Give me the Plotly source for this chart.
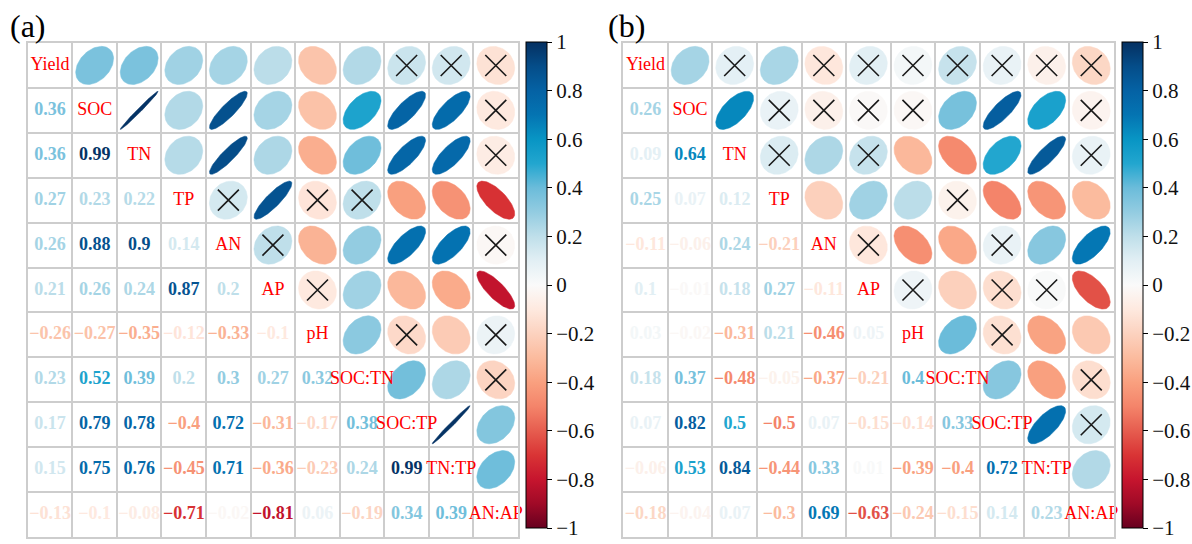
import numpy as np
import plotly.graph_objects as go

# ---------------------------------------------------------------- data
variables = ["Yield", "SOC", "TN", "TP", "AN", "AP", "pH",
             "SOC:TN", "SOC:TP", "TN:TP", "AN:AP"]

# Lower triangle of each correlation matrix, row by row
# (row i lists the coefficients with variables 0 .. i-1)
corr_a_rows = [
    [],
    [0.36],
    [0.36, 0.99],
    [0.27, 0.23, 0.22],
    [0.26, 0.88, 0.9, 0.14],
    [0.21, 0.26, 0.24, 0.87, 0.2],
    [-0.26, -0.27, -0.35, -0.12, -0.33, -0.1],
    [0.23, 0.52, 0.39, 0.2, 0.3, 0.27, 0.32],
    [0.17, 0.79, 0.78, -0.4, 0.72, -0.31, -0.17, 0.38],
    [0.15, 0.75, 0.76, -0.45, 0.71, -0.36, -0.23, 0.24, 0.99],
    [-0.13, -0.1, -0.08, -0.71, -0.02, -0.81, 0.06, -0.19, 0.34, 0.39],
]

corr_b_rows = [
    [],
    [0.26],
    [0.09, 0.64],
    [0.25, 0.07, 0.12],
    [-0.11, -0.06, 0.24, -0.21],
    [0.1, -0.01, 0.18, 0.27, -0.11],
    [0.03, -0.02, -0.31, 0.21, -0.46, 0.05],
    [0.18, 0.37, -0.48, -0.05, -0.37, -0.21, 0.4],
    [0.07, 0.82, 0.5, -0.5, 0.07, -0.15, -0.14, 0.33],
    [-0.06, 0.53, 0.84, -0.44, 0.33, 0.01, -0.39, -0.4, 0.72],
    [-0.18, -0.04, 0.07, -0.3, 0.69, -0.63, -0.24, -0.15, 0.14, 0.23],
]

# Pairs whose correlation is not significant (crossed out)
insig_a = [
    ("Yield", "SOC:TP"), ("Yield", "TN:TP"), ("Yield", "AN:AP"),
    ("SOC", "AN:AP"), ("TN", "AN:AP"),
    ("TP", "AN"), ("TP", "pH"), ("TP", "SOC:TN"),
    ("AN", "AP"), ("AN", "AN:AP"),
    ("AP", "pH"),
    ("pH", "SOC:TP"), ("pH", "AN:AP"),
    ("SOC:TN", "AN:AP"),
]

insig_b = [
    ("Yield", "TN"), ("Yield", "AN"), ("Yield", "AP"), ("Yield", "pH"),
    ("Yield", "SOC:TN"), ("Yield", "SOC:TP"), ("Yield", "TN:TP"), ("Yield", "AN:AP"),
    ("SOC", "TP"), ("SOC", "AN"), ("SOC", "AP"), ("SOC", "pH"), ("SOC", "AN:AP"),
    ("TN", "TP"), ("TN", "AP"), ("TN", "AN:AP"),
    ("TP", "SOC:TN"),
    ("AN", "AP"), ("AN", "SOC:TP"),
    ("AP", "pH"), ("AP", "SOC:TP"), ("AP", "TN:TP"),
    ("pH", "SOC:TP"),
    ("SOC:TN", "AN:AP"),
    ("SOC:TP", "AN:AP"),
]

panel_labels = ["(a)", "(b)"]
cbar_ticks = [-1, -0.8, -0.6, -0.4, -0.2, 0, 0.2, 0.4, 0.6, 0.8, 1]

# ---------------------------------------------------------------- styling
W, H = 1192, 544
SERIF = "Liberation Serif"
GRID = "#CDCDCD"

# diverging red-white-blue scale, position = (r + 1) / 2
SCALE = [
    (0.00, "#67001F"), (0.05, "#A00A27"), (0.10, "#C6152E"), (0.15, "#D93435"),
    (0.20, "#E65D4F"), (0.25, "#F4846A"), (0.30, "#F9A07F"), (0.35, "#FBBB9E"),
    (0.40, "#FCD2BF"), (0.45, "#FEE9DF"), (0.50, "#FAFAFA"), (0.55, "#E2EFF4"),
    (0.60, "#BFDFEA"), (0.65, "#93CCE1"), (0.70, "#6BBCDA"), (0.75, "#22A6CF"),
    (0.80, "#0895C4"), (0.85, "#0474B2"), (0.90, "#0562A4"), (0.95, "#054D89"),
    (1.00, "#053061"),
]
_pos = np.array([p for p, _ in SCALE])
_rgb = np.array([[int(c[i:i + 2], 16) for i in (1, 3, 5)] for _, c in SCALE], float)


def corr_color(r):
    p = (r + 1) / 2
    rgb = [np.interp(p, _pos, _rgb[:, k]) for k in range(3)]
    return "rgb(%d,%d,%d)" % tuple(int(round(v)) for v in rgb)


def fmt(r):
    s = f"{r:g}"
    return s.replace("-", "\u2212")


def full_matrix(rows):
    n = len(variables)
    m = np.eye(n)
    for i, row in enumerate(rows):
        for j, v in enumerate(row):
            m[i, j] = v
            m[j, i] = v
    return m


# pixel geometry of the two panels
grid_left = [28, 628]
grid_top, grid_bottom = 43, 537
grid_size = grid_bottom - grid_top
cbar_left = [530, 1131]
label_left = [8, 611]

fig = go.Figure()
n = len(variables)
t = np.linspace(0, 2 * np.pi, 99)

for p, (rows, insig) in enumerate([(corr_a_rows, insig_a), (corr_b_rows, insig_b)]):
    M = full_matrix(rows)
    xa = "x" if p == 0 else "x2"
    ya = "y" if p == 0 else "y2"

    # upper triangle: ellipses
    for i in range(n):
        for j in range(i + 1, n):
            r = M[i, j]
            d = np.arccos(np.clip(r, -1, 1))
            ex = j + 0.425 * np.cos(t + d / 2)
            ey = i - 0.425 * np.cos(t - d / 2)
            col = corr_color(r)
            fig.add_trace(go.Scatter(
                x=ex, y=ey, xaxis=xa, yaxis=ya, mode="lines",
                fill="toself", fillcolor=col, line=dict(width=0.5, color=col),
                hoverinfo="skip", showlegend=False))

    # crosses for non-significant pairs
    cx, cy = [], []
    for a, b in insig:
        ia, ib = variables.index(a), variables.index(b)
        i, j = min(ia, ib), max(ia, ib)
        cx.append(j)
        cy.append(i)
    fig.add_trace(go.Scatter(
        x=cx, y=cy, xaxis=xa, yaxis=ya, mode="markers",
        marker=dict(symbol="x-thin", size=21,
                    line=dict(width=1.6, color="#1A1A1A")),
        hoverinfo="skip", showlegend=False))

    # lower triangle: coefficients
    tx, ty, tt, tc = [], [], [], []
    for i in range(n):
        for j in range(i):
            tx.append(j)
            ty.append(i)
            tt.append(fmt(M[i, j]))
            tc.append(corr_color(M[i, j]))
    fig.add_trace(go.Scatter(
        x=tx, y=ty, xaxis=xa, yaxis=ya, mode="text", text=tt, cliponaxis=False,
        textfont=dict(family=SERIF, size=18, color=tc, weight="bold"),
        hoverinfo="skip", showlegend=False))

    # diagonal: variable names
    fig.add_trace(go.Scatter(
        x=list(range(n)), y=list(range(n)), xaxis=xa, yaxis=ya, mode="text",
        text=variables, cliponaxis=False,
        textfont=dict(family=SERIF, size=18, color="#FF0000"),
        hoverinfo="skip", showlegend=False))

    # colour bar
    fig.add_trace(go.Scatter(
        x=[None], y=[None], xaxis=xa, yaxis=ya, mode="markers",
        marker=dict(
            color=[0], cmin=-1, cmax=1,
            colorscale=[[q, c] for q, c in SCALE], showscale=True,
            colorbar=dict(
                x=cbar_left[p] / W, xanchor="left", xref="paper",
                y=(H - (42 + 528) / 2) / H, yanchor="middle",
                len=486, lenmode="pixels", thickness=21, thicknessmode="pixels",
                xpad=0, ypad=0, outlinewidth=1, outlinecolor="#000000",
                ticks="outside", ticklen=5, tickwidth=1, tickcolor="#000000",
                tickvals=cbar_ticks, ticktext=[fmt(v) for v in cbar_ticks],
                tickfont=dict(family=SERIF, size=21, color="#111111"))),
        hoverinfo="skip", showlegend=False))

    axis_common = dict(
        tickvals=[k + 0.5 for k in range(n - 1)], showticklabels=False, ticks="",
        showgrid=True, gridcolor=GRID, gridwidth=2, zeroline=False,
        showline=True, linecolor=GRID, linewidth=2, mirror=True, fixedrange=True)
    x0 = grid_left[p] / W
    x1 = (grid_left[p] + grid_size) / W
    fig.layout["xaxis" if p == 0 else "xaxis2"] = dict(
        domain=[x0, x1], range=[-0.5, n - 0.5], anchor=ya, **axis_common)
    fig.layout["yaxis" if p == 0 else "yaxis2"] = dict(
        domain=[(H - grid_bottom) / H, (H - grid_top) / H],
        range=[n - 0.5, -0.5], anchor=xa, **axis_common)

    fig.add_annotation(
        text=panel_labels[p], xref="paper", yref="paper",
        x=label_left[p] / W, xanchor="left", y=(H - 26) / H, yanchor="middle",
        showarrow=False, font=dict(family=SERIF, size=32, color="#000000"))

fig.update_layout(
    width=W, height=H, margin=dict(l=0, r=0, t=0, b=0),
    paper_bgcolor="white", plot_bgcolor="white", showlegend=False)

fig.write_html("out.html")
